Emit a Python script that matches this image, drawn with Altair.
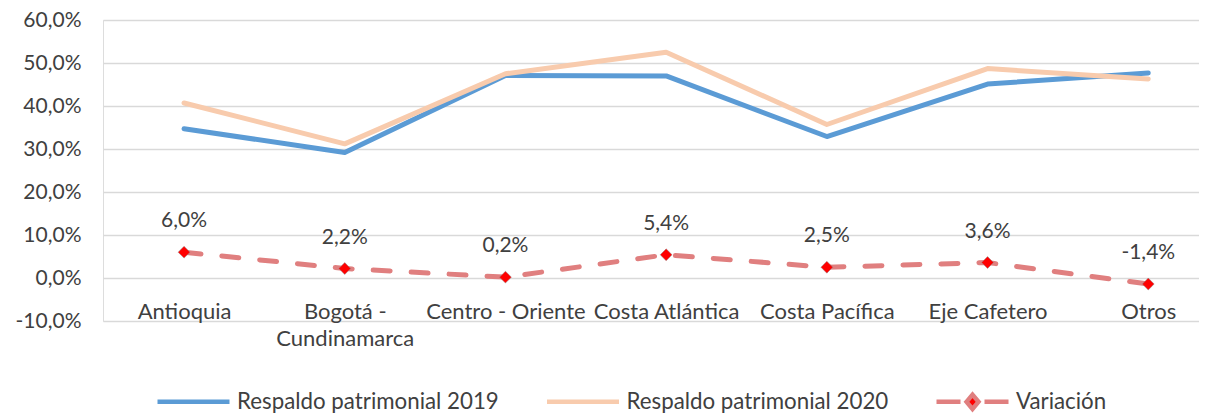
import altair as alt
import pandas as pd

# ---- data ----
categorias = ["Antioquia", "Bogotá - Cundinamarca", "Centro - Oriente", "Costa Atlántica",
              "Costa Pacífica", "Eje Cafetero", "Otros"]
respaldo_2019 = [34.7, 29.2, 47.1, 47.0, 32.9, 45.1, 47.7]
respaldo_2020 = [40.7, 31.2, 47.5, 52.5, 35.7, 48.7, 46.3]
variacion = [6.0, 2.2, 0.2, 5.4, 2.5, 3.6, -1.4]
series = ["Respaldo patrimonial 2019", "Respaldo patrimonial 2020", "Variación"]
y_ticks = [-10, 0, 10, 20, 30, 40, 50, 60]

# ---- styling ----
colores_linea = ["#5B9BD5", "#F8CBAD", "#E07F7F"]
colores_relleno = ["#5B9BD5", "#F8CBAD", "#FF0000"]
simbolos = [
    "M-3,0L3,0M0,-0.9M0,0.9",
    "M-3,0L3,0M0,-0.9M0,0.9",
    "M-3,0L-1.0,0M1.0,0L3,0M-0.5,0L0,-0.6L0.5,0L0,0.6ZM0,-0.9M0,0.9",
]
FONT = "Lato"
TXT = "#404040"

rows = []
for s, vals in zip(series, [respaldo_2019, respaldo_2020, variacion]):
    for c, v in zip(categorias, vals):
        rows.append({"categoria": c, "serie": s, "valor": v})
df = pd.DataFrame(rows)

x_enc = alt.X(
    "categoria:N",
    sort=categorias,
    scale=alt.Scale(type="point", padding=0.41, align=0.615),
    axis=alt.Axis(
        title=None, orient="bottom", offset=-43, domain=False, ticks=False, grid=False,
        labelAngle=0, labelPadding=23, labelFontSize=22, labelFont=FONT, labelColor=TXT,
        labelLimit=400, labelOverlap=False, labelLineHeight=27,
        labelExpr="datum.value == 'Bogotá - Cundinamarca' ? ['Bogotá -', 'Cundinamarca'] : datum.label",
    ),
)
y_enc = alt.Y(
    "valor:Q",
    scale=alt.Scale(domain=[-10, 60], nice=False, zero=False),
    axis=alt.Axis(
        title=None, values=y_ticks, domain=False, ticks=False, grid=True,
        gridColor="#D9D9D9", gridWidth=1.5, labelPadding=22, labelFontSize=21,
        labelFont=FONT, labelColor=TXT,
        labelExpr="replace(replace(format(datum.value, '.1f'), '.', ','), '\u2212', '-') + '%'",
    ),
)

base = alt.Chart(df).encode(x=x_enc, y=y_enc)


def serie_layer(nombre):
    return base.transform_filter(alt.datum.serie == nombre)


line_2019 = serie_layer(series[0]).mark_line(
    strokeWidth=5, strokeCap="round", strokeJoin="round", color=colores_linea[0])
line_2020 = serie_layer(series[1]).mark_line(
    strokeWidth=5, strokeCap="round", strokeJoin="round", color=colores_linea[1])
line_var = serie_layer(series[2]).mark_line(
    strokeWidth=5, strokeCap="round", strokeJoin="round", color=colores_linea[2],
    strokeDash=[17, 21])

points = serie_layer(series[2]).mark_point(
    shape="diamond", filled=True, size=140, fill="#FF0000",
    stroke="#8C8C8C", strokeWidth=0.8, strokeOpacity=0.6, opacity=1,
)

labels = serie_layer(series[2]).transform_calculate(
    etiqueta="replace(replace(format(datum.valor, '.1f'), '.', ','), '\u2212', '-') + '%'"
).mark_text(dy=-31, fontSize=21, font=FONT, color=TXT).encode(text="etiqueta:N")

leg = alt.Legend(
    title=None, orient="none", legendX=76, legendY=367, direction="horizontal", columns=3,
    symbolSize=576, symbolStrokeWidth=4.5, labelOffset=29, columnPadding=38.5,
    labelFontSize=22.3, labelFont=FONT, labelColor=TXT, labelLimit=500, padding=0,
)

legend_layer = base.mark_point(filled=True, size=0, strokeWidth=4.5, opacity=1).encode(
    fill=alt.Fill("serie:N", scale=alt.Scale(domain=series, range=colores_relleno), legend=leg),
    stroke=alt.Stroke("serie:N", scale=alt.Scale(domain=series, range=colores_linea), legend=leg),
    shape=alt.Shape("serie:N", scale=alt.Scale(domain=series, range=simbolos), legend=leg),
)

chart = (
    alt.layer(line_2019, line_2020, line_var, points, labels, legend_layer)
    .properties(
        width=1096, height=301,
        autosize=alt.AutoSizeParams(type="none"),
        padding={"left": 95, "top": 12, "right": 0, "bottom": 93},
    )
    .configure_view(stroke=None)
    .configure(font=FONT)
)

chart.save("out.html", embed_options={"renderer": "svg", "actions": False})
